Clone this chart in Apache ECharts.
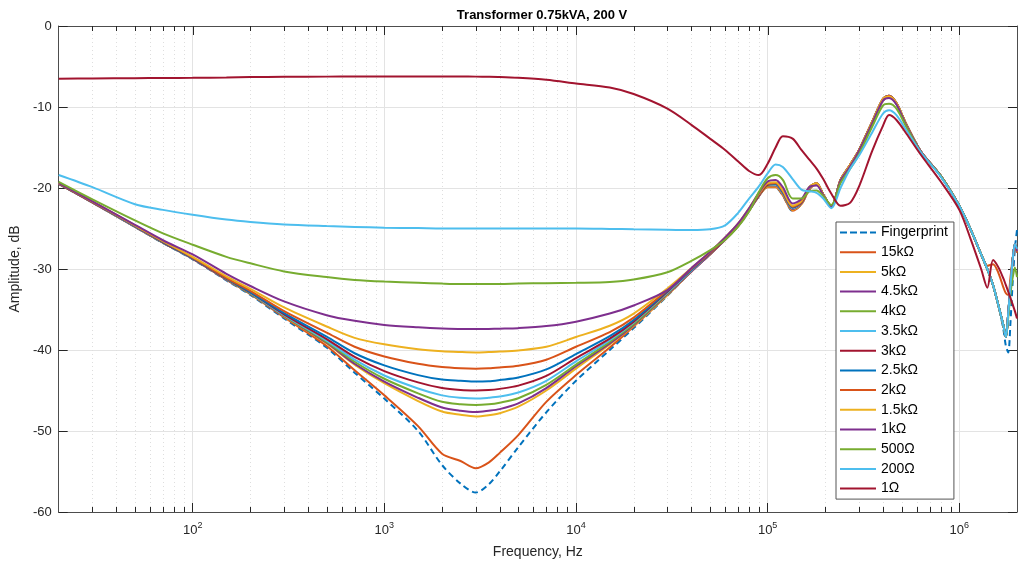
<!DOCTYPE html>
<html>
<head>
<meta charset="utf-8">
<title>Transformer 0.75kVA, 200 V</title>
<script src="https://cdn.jsdelivr.net/npm/echarts@6.0.0/dist/echarts.min.js"></script>
<style>
  html, body { margin: 0; padding: 0; background: #fff; }
  #chart { width: 1024px; height: 567px; }
</style>
</head>
<body>
<div id="chart"></div>
<script>
// frequency points (Hz), shared by every trace
const freq = [20, 30, 50, 70, 100, 150, 200, 300, 500, 700,
  1000, 1500, 2000, 2500, 3000, 3500, 4000, 5000, 7000, 10000,
  15000, 20000, 30000, 40000, 50000, 60000, 70000, 80000, 90000, 100000,
  110000, 120000, 135000, 150000, 165000, 180000, 195000, 215000, 240000, 270000,
  300000, 350000, 400000, 430000, 470000, 530000, 630000, 800000, 1000000, 1150000,
  1300000, 1400000, 1500000, 1600000, 1700000, 1750000, 1800000, 1850000, 1900000, 1950000,
  2000000];

// amplitude in dB, one array per trace
const fingerprint = [-19.5, -21.8, -24.8, -26.8, -28.8, -31.4, -33.2, -36.1, -39.7, -42.8,
  -46.0, -50.0, -54.2, -56.5, -57.6, -56.6, -55.0, -52.0, -47.7, -43.8,
  -40.0, -37.3, -33.3, -30.3, -28.2, -26.4, -24.7, -22.8, -21.0, -19.8,
  -19.9, -20.9, -22.8, -22.0, -20.2, -19.5, -20.8, -22.3, -19.1, -17.2,
  -15.4, -12.0, -9.2, -8.7, -9.6, -12.2, -15.5, -18.5, -22.2, -25.2,
  -28.2, -30.0, -32.0, -34.5, -37.5, -39.5, -40.3, -36.5, -31.5, -27.5, -25.2];
const r15k = [-19.45, -21.75, -24.75, -26.75, -28.7, -31.3, -33.1, -35.95, -39.5, -42.5,
  -45.6, -49.4, -52.8, -53.7, -54.6, -53.9, -52.7, -50.5, -46.4, -43.1,
  -39.7, -37.1, -33.2, -30.3, -28.2, -26.4, -24.7, -22.8, -21.0, -19.9,
  -19.9, -20.9, -22.8, -22.0, -20.2, -19.5, -20.8, -22.3, -19.1, -17.2,
  -15.4, -12.0, -9.2, -8.7, -9.6, -12.2, -15.5, -18.5, -22.2, -25.2,
  -28.2, -30.0, -32.0, -34.5, -37.0, -38.4, -35.5, -32.0, -28.8, -26.9, -27.8];
const r5k = [-19.5, -21.8, -24.8, -26.75, -28.75, -31.3, -33.05, -35.85, -39.2, -41.8,
  -44.1, -46.3, -47.6, -48.0, -48.2, -48.05, -47.8, -47.0, -45.0, -42.3,
  -39.3, -37.0, -33.2, -30.3, -28.2, -26.4, -24.7, -22.8, -21.0, -19.8,
  -19.8, -20.8, -22.7, -22.0, -20.1, -19.5, -20.8, -22.3, -19.0, -17.1,
  -15.3, -11.9, -9.1, -8.7, -9.6, -12.2, -15.5, -18.5, -22.2, -25.2,
  -28.2, -30.0, -32.0, -34.5, -37.0, -38.4, -35.5, -32.0, -28.8, -26.9, -27.8];
const r4k5 = [-19.5, -21.8, -24.8, -26.75, -28.75, -31.3, -33.05, -35.8, -39.1, -41.7,
  -43.9, -45.9, -47.1, -47.5, -47.65, -47.5, -47.3, -46.6, -44.7, -42.0,
  -39.2, -36.9, -33.1, -30.3, -28.2, -26.4, -24.7, -22.8, -21.0, -19.7,
  -19.7, -20.7, -22.6, -21.9, -20.0, -19.4, -20.8, -22.3, -19.0, -17.1,
  -15.3, -11.9, -9.0, -8.6, -9.6, -12.2, -15.5, -18.5, -22.2, -25.2,
  -28.2, -30.0, -32.0, -34.5, -37.0, -38.4, -35.5, -32.0, -28.8, -26.9, -27.8];
const r4k = [-19.45, -21.75, -24.75, -26.75, -28.7, -31.25, -33.0, -35.75, -39.0, -41.45,
  -43.55, -45.35, -46.4, -46.7, -46.8, -46.7, -46.5, -45.95, -44.3, -41.8,
  -39.0, -36.8, -33.0, -30.2, -28.1, -26.3, -24.6, -22.7, -20.9, -19.7,
  -19.6, -20.6, -22.5, -21.8, -20.0, -19.5, -20.8, -22.3, -19.1, -17.2,
  -15.4, -12.0, -9.1, -8.7, -9.6, -12.2, -15.5, -18.5, -22.2, -25.2,
  -28.2, -30.0, -32.0, -34.5, -37.0, -38.4, -35.5, -32.0, -28.8, -26.9, -27.8];
const r3k5 = [-19.45, -21.75, -24.75, -26.7, -28.7, -31.2, -32.95, -35.7, -38.85, -41.2,
  -43.15, -44.75, -45.6, -45.9, -46.0, -45.9, -45.75, -45.25, -43.8, -41.4,
  -38.8, -36.6, -32.9, -30.2, -28.1, -26.3, -24.6, -22.7, -20.9, -19.6,
  -19.6, -20.6, -22.5, -21.8, -20.0, -19.5, -20.8, -22.3, -19.1, -17.2,
  -15.4, -12.0, -9.1, -8.7, -9.6, -12.2, -15.5, -18.5, -22.2, -25.2,
  -28.2, -30.0, -32.0, -34.5, -37.0, -38.4, -35.5, -32.0, -28.8, -26.9, -27.8];
const r3k = [-19.45, -21.75, -24.7, -26.7, -28.7, -31.2, -32.9, -35.6, -38.65, -40.85,
  -42.6, -44.0, -44.7, -44.95, -45.0, -44.95, -44.8, -44.4, -43.2, -41.0,
  -38.6, -36.5, -32.8, -30.1, -28.1, -26.3, -24.6, -22.7, -20.9, -19.6,
  -19.5, -20.5, -22.4, -21.8, -20.0, -19.4, -20.8, -22.3, -19.0, -17.1,
  -15.3, -11.9, -9.0, -8.6, -9.5, -12.2, -15.5, -18.5, -22.2, -25.2,
  -28.2, -30.0, -32.0, -34.5, -37.0, -38.4, -35.5, -32.0, -28.8, -26.9, -27.8];
const r2k5 = [-19.4, -21.7, -24.7, -26.65, -28.65, -31.15, -32.85, -35.45, -38.35, -40.4,
  -41.9, -43.1, -43.65, -43.8, -43.9, -43.85, -43.7, -43.4, -42.4, -40.5,
  -38.3, -36.3, -32.7, -30.1, -28.0, -26.2, -24.5, -22.6, -20.8, -19.5,
  -19.5, -20.5, -22.4, -21.7, -19.9, -19.4, -20.8, -22.3, -19.0, -17.1,
  -15.3, -11.9, -9.0, -8.6, -9.5, -12.2, -15.5, -18.5, -22.2, -25.2,
  -28.2, -30.0, -32.0, -34.5, -37.0, -38.4, -35.5, -32.0, -28.8, -26.9, -27.8];
const r2k = [-19.4, -21.7, -24.65, -26.6, -28.6, -31.1, -32.7, -35.2, -37.85, -39.6,
  -40.8, -41.7, -42.1, -42.25, -42.3, -42.25, -42.15, -41.95, -41.2, -39.6,
  -37.8, -36.0, -32.6, -30.0, -28.0, -26.2, -24.5, -22.6, -20.8, -19.5,
  -19.4, -20.4, -22.3, -21.7, -19.9, -19.4, -20.8, -22.3, -19.0, -17.1,
  -15.3, -11.9, -9.0, -8.6, -9.5, -12.2, -15.5, -18.5, -22.2, -25.2,
  -28.2, -29.6, -29.4, -30.5, -32.3, -33.0, -33.2, -31.0, -28.6, -27.0, -28.0];
const r1k5 = [-19.4, -21.65, -24.6, -26.55, -28.5, -30.9, -32.45, -34.75, -37.1, -38.5,
  -39.3, -39.9, -40.15, -40.25, -40.3, -40.25, -40.2, -40.05, -39.6, -38.4,
  -37.0, -35.5, -32.4, -29.9, -27.9, -26.1, -24.4, -22.5, -20.7, -19.4,
  -19.3, -20.3, -22.2, -21.6, -19.9, -19.4, -20.8, -22.3, -19.0, -17.1,
  -15.3, -11.9, -9.0, -8.7, -9.5, -12.2, -15.5, -18.5, -22.2, -25.2,
  -28.2, -30.0, -32.0, -34.5, -37.0, -38.4, -35.5, -32.0, -28.8, -26.9, -27.8];
const r1k = [-19.4, -21.65, -24.55, -26.45, -28.2, -30.6, -32.1, -34.0, -35.7, -36.4,
  -36.9, -37.2, -37.35, -37.4, -37.42, -37.4, -37.37, -37.3, -37.05, -36.5,
  -35.5, -34.5, -32.6, -29.9, -27.9, -26.1, -24.4, -22.5, -20.6, -19.2,
  -19.0, -19.9, -21.9, -21.4, -19.9, -19.7, -20.9, -22.3, -19.1, -17.3,
  -15.4, -12.1, -9.2, -8.9, -9.7, -12.3, -15.5, -18.5, -22.2, -25.2,
  -28.2, -30.0, -32.0, -34.5, -37.0, -38.4, -35.5, -32.0, -28.8, -26.9, -27.8];
const r500 = [-19.25, -21.4, -24.0, -25.6, -27.0, -28.5, -29.3, -30.3, -31.0, -31.35,
  -31.55, -31.7, -31.8, -31.85, -31.85, -31.85, -31.85, -31.8, -31.75, -31.7,
  -31.6, -31.3, -30.4, -29.0, -27.7, -26.4, -24.8, -22.9, -20.5, -18.8,
  -18.4, -19.0, -21.3, -21.3, -20.4, -20.3, -21.0, -22.1, -19.4, -17.6,
  -15.8, -12.5, -9.8, -9.6, -10.2, -12.5, -15.6, -18.5, -22.2, -25.2,
  -28.2, -30.0, -32.0, -34.5, -37.0, -38.4, -36.0, -33.0, -31.0, -29.8, -31.0];
const r200 = [-18.4, -19.9, -22.0, -22.7, -23.3, -23.9, -24.2, -24.5, -24.7, -24.8,
  -24.9, -24.95, -25.0, -25.0, -25.0, -25.0, -25.0, -25.0, -25.0, -25.0,
  -25.05, -25.1, -25.15, -25.2, -25.1, -24.6, -23.1, -21.3, -19.8, -18.2,
  -17.1, -17.4, -18.9, -20.2, -20.4, -20.6, -21.3, -22.5, -20.0, -17.6,
  -16.0, -13.2, -10.8, -10.4, -11.0, -12.9, -15.6, -18.6, -22.2, -25.2,
  -28.2, -30.0, -32.0, -34.5, -37.0, -38.4, -35.5, -32.0, -28.8, -26.9, -27.5];
const r1 = [-6.5, -6.48, -6.45, -6.42, -6.4, -6.35, -6.3, -6.27, -6.25, -6.23,
  -6.22, -6.22, -6.23, -6.24, -6.25, -6.27, -6.3, -6.4, -6.65, -7.1,
  -7.6, -8.4, -10.2, -12.2, -13.9, -15.3, -16.7, -17.9, -18.4, -17.0,
  -15.0, -13.6, -13.9, -15.3, -16.5, -17.6, -18.9, -20.7, -22.2, -21.8,
  -19.8, -15.5, -12.3, -11.0, -11.6, -13.3, -15.9, -19.2, -22.7, -26.4,
  -30.0, -32.3, -28.9, -29.8, -31.2, -32.0, -32.8, -33.6, -34.4, -35.2, -36.1];

const names = ['Fingerprint', '15kΩ', '5kΩ', '4.5kΩ', '4kΩ', '3.5kΩ', '3kΩ',
  '2.5kΩ', '2kΩ', '1.5kΩ', '1kΩ', '500Ω', '200Ω', '1Ω'];
const traces = [fingerprint, r15k, r5k, r4k5, r4k, r3k5, r3k, r2k5, r2k, r1k5, r1k, r500, r200, r1];
const colors = ['#0072BD', '#D95319', '#EDB120', '#7E2F8E', '#77AC30', '#4DBEEE', '#A2142F',
  '#0072BD', '#D95319', '#EDB120', '#7E2F8E', '#77AC30', '#4DBEEE', '#A2142F'];

// decade ticks and the 2..9 minor ticks of the log axis
const majorTicks = [100, 1000, 10000, 100000, 1000000];
const minorTicks = [];
for (let d = 10; d <= 100000; d *= 10) {
  for (let m = 2; m <= 9; m++) {
    const v = m * d;
    if (v > 20 && v < 2000000) minorTicks.push(v);
  }
}

const fontFamily = "'Liberation Sans', Arial, Helvetica, sans-serif";
const axisColor = '#4d4d4d';
const gridColor = '#e3e3e3';

// legend icons: a dashed bar for the fingerprint, plain bars for the rest
const dashIcon = 'path://M0,0h7v2h-7z M10,0h7v2h-7z M20,0h7v2h-7z M30,0h6v2h-6z';

function tickRender(params, api) {
  const cs = params.coordSys;
  const x = Math.round(api.coord([api.value(0), -30])[0]) + 0.5;
  const major = api.value(1) === 1;
  const top = cs.y;
  const bot = cs.y + cs.height;
  const children = [];
  if (!major) {
    children.push({ type: 'line', shape: { x1: x, y1: top, x2: x, y2: bot },
      style: { stroke: '#dedede', lineWidth: 1, lineDash: [1, 3] } });
    children.push({ type: 'line', shape: { x1: x, y1: bot, x2: x, y2: bot - 5 },
      style: { stroke: '#262626', lineWidth: 1 } });
  }
  children.push({ type: 'line', shape: { x1: x, y1: top, x2: x, y2: top + (major ? 9 : 5) },
    style: { stroke: '#262626', lineWidth: 1 } });
  return { type: 'group', children: children };
}

const series = [{
  name: 'ticks',
  type: 'custom',
  renderItem: tickRender,
  data: minorTicks.map(v => [v, 0]).concat(majorTicks.map(v => [v, 1])),
  encode: { x: 0 },
  silent: true,
  clip: false,
  z: 1
}];

traces.forEach((vals, i) => {
  series.push({
    name: names[i],
    type: 'line',
    data: freq.map((f, k) => [f, vals[k]]),
    symbol: 'none',
    smooth: 0.3,
    itemStyle: { color: colors[i] },
    lineStyle: { color: colors[i], width: 2, type: i === 0 ? [6, 4] : 'solid' },
    z: 3
  });
});

const chart = echarts.init(document.getElementById('chart'));
chart.setOption({
  animation: false,
  textStyle: { fontFamily: fontFamily },
  title: {
    text: 'Transformer 0.75kVA, 200 V',
    left: 537,
    top: 4,
    textAlign: 'center',
    textStyle: { fontSize: 13, fontWeight: 'bold', color: '#000', fontFamily: fontFamily }
  },
  grid: { left: 58, right: 7, top: 26, bottom: 55, containLabel: false },
  legend: {
    data: names.map((n, i) => ({ name: n, icon: i === 0 ? dashIcon : 'rect' })),
    orient: 'vertical',
    left: 836,
    top: 222,
    itemWidth: 36,
    itemHeight: 2,
    itemGap: 4.7,
    symbolKeepAspect: false,
    padding: [3, 6, 3, 4],
    backgroundColor: '#fff',
    borderColor: '#555',
    borderWidth: 1,
    borderRadius: 0,
    textStyle: { fontSize: 14, lineHeight: 15, color: '#000', fontFamily: fontFamily }
  },
  xAxis: [{
    type: 'log',
    logBase: 10,
    min: 20,
    max: 2000000,
    position: 'bottom',
    name: 'Frequency, Hz',
    nameLocation: 'middle',
    nameGap: 33,
    nameTextStyle: { fontSize: 14, color: '#262626' },
    axisLine: { show: true, onZero: false, lineStyle: { color: axisColor } },
    axisTick: { show: true, inside: true, length: 9, lineStyle: { color: '#262626' } },
    axisLabel: {
      showMinLabel: false,
      showMaxLabel: false,
      margin: 9,
      formatter: function (v) {
        const e = Math.round(Math.log10(v));
        if (Math.abs(Math.pow(10, e) - v) > 1e-6 * v) return '';
        return '{b|10}{e|' + e + '}';
      },
      rich: {
        b: { fontSize: 13, color: '#262626', fontFamily: fontFamily },
        e: { fontSize: 9, color: '#262626', fontFamily: fontFamily, verticalAlign: 'bottom', padding: [0, 0, 9, 0] }
      }
    },
    splitLine: { show: true, lineStyle: { color: gridColor, width: 1 } }
  }, {
    type: 'log',
    logBase: 10,
    min: 20,
    max: 2000000,
    position: 'top',
    axisLine: { show: true, onZero: false, lineStyle: { color: axisColor } },
    axisTick: { show: false },
    axisLabel: { show: false },
    splitLine: { show: false }
  }],
  yAxis: [{
    type: 'value',
    min: -60,
    max: 0,
    interval: 10,
    position: 'left',
    name: 'Amplitude, dB',
    nameLocation: 'middle',
    nameGap: 35,
    nameRotate: 90,
    nameTextStyle: { fontSize: 14, color: '#262626' },
    axisLine: { show: true, onZero: false, lineStyle: { color: axisColor } },
    axisTick: { show: true, inside: true, length: 9, lineStyle: { color: '#262626' } },
    axisLabel: { fontSize: 13, color: '#262626', margin: 7 },
    splitLine: { show: true, lineStyle: { color: gridColor, width: 1 } }
  }, {
    type: 'value',
    min: -60,
    max: 0,
    interval: 10,
    position: 'right',
    axisLine: { show: true, onZero: false, lineStyle: { color: axisColor } },
    axisTick: { show: true, inside: true, length: 9, lineStyle: { color: '#262626' } },
    axisLabel: { show: false },
    splitLine: { show: false }
  }],
  series: series
});
</script>
</body>
</html>
